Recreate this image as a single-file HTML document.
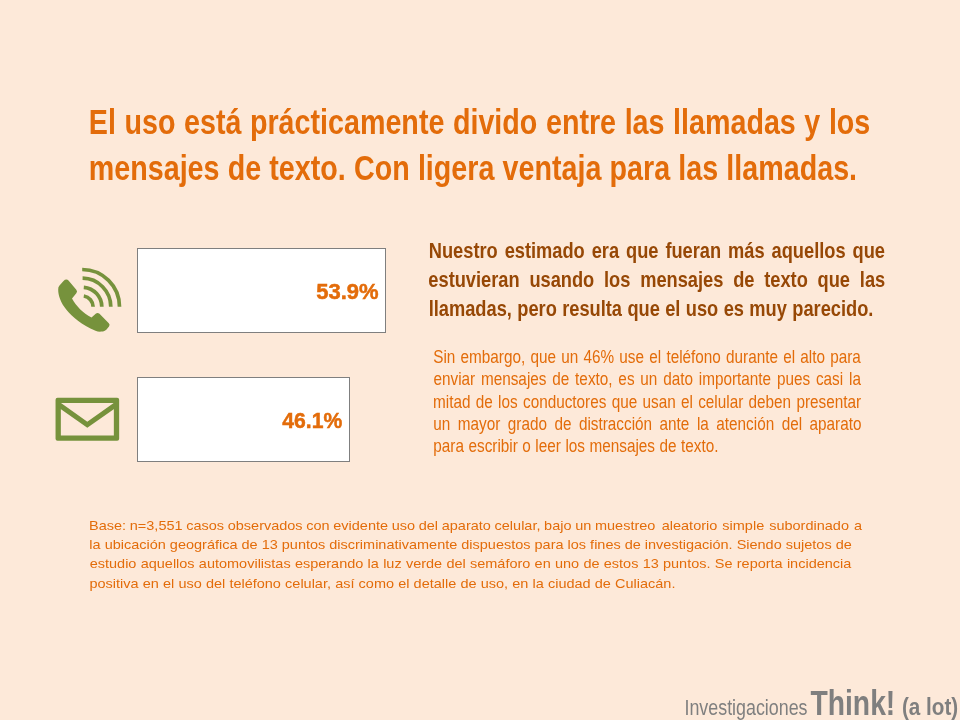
<!DOCTYPE html>
<html lang="es">
<head>
<meta charset="utf-8">
<title>Uso del celular: llamadas y mensajes de texto</title>
<style>
html,body{margin:0;padding:0}
body{width:960px;height:720px;overflow:hidden;background:#FDE9D9;position:relative;font-family:"Liberation Sans",sans-serif}
h1,p,footer{margin:0;padding:0;font:inherit}
.ln{position:absolute;display:block;white-space:pre;line-height:1;transform-origin:0 0;margin:0}
.title,.para,.base,.pct1,.pct2{color:#E36C0A}
.title,.sub,.pct1,.pct2,.f2,.f3{font-weight:700}
.pct1,.pct2{-webkit-text-stroke:0.5px #E36C0A}
.sub{color:#974806}
.f1,.f2,.f3{color:#7F7F7F}
.bar{position:absolute;box-sizing:border-box;background:#fff;border:1px solid #7F7F7F}
svg.ic{position:absolute;overflow:visible}
</style>
</head>
<body>
<div class="bar" style="left:137px;top:248px;width:249px;height:85px"></div>
<div class="bar" style="left:137px;top:377px;width:213px;height:85px"></div>
<svg class="ic" style="left:0;top:0" width="960" height="720" viewBox="0 0 960 720">
 <g fill="none" stroke="#76923C" stroke-width="3.7">
  <path d="M82.2 269.5 A37.3 37.3 0 0 1 119.5 306.8"/>
  <path d="M82.6 278.2 A28.6 28.6 0 0 1 110.8 306.8"/>
  <path d="M83.8 287.3 A19.6 19.6 0 0 1 101.8 306.8"/>
  <path d="M83.8 296.0 A10.9 10.9 0 0 1 93.1 306.8"/>
 </g>
 <path fill="#76923C" d="M66.5 279.6 Q64.8 279.6 63.5 281 L59.5 285.5 Q58 287 58.2 289.5 C58 301 68 318.5 95.5 330.8 Q98 331.8 101 331.6 L103 331.4 Q105 331.2 106.3 329.8 L109 326.5 Q110.3 324.8 108.8 323.3 L99.5 313.8 Q97.5 312.3 95.7 313.8 L91.5 317.5 C83 313 76 306 72 298.5 L76.3 293.3 Q77.8 291.5 76.3 289.8 L68.5 280.6 Q67.6 279.6 66.5 279.6 Z"/>
 <path fill="#76923C" fill-rule="evenodd" d="M57.55 397.75 H117.15 Q119.15 397.75 119.15 399.75 V438.85 Q119.15 440.85 117.15 440.85 H57.55 Q55.55 440.85 55.55 438.85 V399.75 Q55.55 397.75 57.55 397.75 Z M60.85 403.05 V435.55 H113.85 V403.05 Z"/>
 <path d="M58.5 404.4 L87.3 424.7 L116.2 404.4" fill="none" stroke="#76923C" stroke-width="5" stroke-linejoin="miter"/>
</svg>
<h1>
<span class="ln title" style="left:88px;top:105px;font-size:34.3px;transform:translateX(0.78px) scaleX(0.8360);word-spacing:0.727px">El uso está prácticamente divido entre las llamadas y los</span>
<span class="ln title" style="left:88px;top:151px;font-size:34.3px;transform:translateX(0.78px) scaleX(0.8360);word-spacing:0.263px">mensajes de texto. Con ligera ventaja para las llamadas.</span>
</h1>
<p class="lead">
<span class="ln sub" style="left:428px;top:240px;font-size:21.2px;transform:translateX(0.79px) scaleX(0.8610);word-spacing:2.180px">Nuestro estimado era que fueran más aquellos que</span>
<span class="ln sub" style="left:428px;top:269px;font-size:21.2px;transform:translateX(0.34px) scaleX(0.8610);word-spacing:5.483px">estuvieran usando los mensajes de texto que las</span>
<span class="ln sub" style="left:428px;top:298px;font-size:21.2px;transform:translateX(0.69px) scaleX(0.8610);word-spacing:0.381px">llamadas, pero resulta que el uso es muy parecido.</span>
</p>
<p>
<span class="ln para" style="left:433px;top:348px;font-size:18.67px;transform:translateX(0.22px) scaleX(0.8200);word-spacing:1.211px">Sin embargo, que un 46% use el teléfono durante el alto para</span>
<span class="ln para" style="left:433px;top:370px;font-size:18.67px;transform:translateX(0.46px) scaleX(0.8200);word-spacing:1.933px">enviar mensajes de texto, es un dato importante pues casi la</span>
<span class="ln para" style="left:433px;top:393px;font-size:18.67px;transform:translateX(0.07px) scaleX(0.8200);word-spacing:1.295px">mitad de los conductores que usan el celular deben presentar</span>
<span class="ln para" style="left:433px;top:415px;font-size:18.67px;transform:translateX(0.23px) scaleX(0.8200);word-spacing:3.982px">un mayor grado de distracción ante la atención del aparato</span>
<span class="ln para" style="left:433px;top:437px;font-size:18.67px;transform:translateX(0.32px) scaleX(0.8200);word-spacing:0.353px">para escribir o leer los mensajes de texto.</span>
</p>
<p class="note">
<span class="ln base" style="left:89px;top:520px;font-size:12.6px;transform:translateX(0.08px) scaleX(1.1500);word-spacing:-0.303px">Base: n=3,551 casos observados con evidente uso del aparato celular, bajo un muestreo</span>
<span class="ln base" style="left:661px;top:520px;font-size:12.6px;transform:translateX(0.74px) scaleX(1.1500);word-spacing:0.879px">aleatorio simple subordinado a</span>
<span class="ln base" style="left:89px;top:539px;font-size:12.6px;transform:translateX(0.35px) scaleX(1.1500)">la ubicación geográfica de 13 puntos discriminativamente dispuestos para los fines de investigación. Siendo sujetos de</span>
<span class="ln base" style="left:89px;top:558px;font-size:12.6px;transform:translateX(0.70px) scaleX(1.1500);word-spacing:0.205px">estudio aquellos automovilistas esperando la luz verde del semáforo en uno de estos 13 puntos. Se reporta incidencia</span>
<span class="ln base" style="left:89px;top:578px;font-size:12.6px;transform:translateX(0.44px) scaleX(1.1500);word-spacing:0.116px">positiva en el uso del teléfono celular, así como el detalle de uso, en la ciudad de Culiacán.</span>
</p>
<div class="val">
<span class="ln pct1" style="left:316px;top:281px;font-size:22.5px;transform:translateX(0.23px) scaleX(0.9779)">53.9%</span>
</div>
<div class="val">
<span class="ln pct2" style="left:282px;top:410px;font-size:22.5px;transform:translateX(0.32px) scaleX(0.9393)">46.1%</span>
</div>
<footer>
<span class="ln f1" style="left:684px;top:698px;font-size:21.33px;transform:translateX(0.44px) scaleX(0.8374)">Investigaciones</span>
<span class="ln f2" style="left:810px;top:686px;font-size:34.5px;transform:translateX(0.50px) scaleX(0.8191)">Think!</span>
<span class="ln f3" style="left:901px;top:696px;font-size:23.7px;transform:translateX(0.92px) scaleX(0.8729)">(a lot)</span>
</footer>
</body>
</html>
